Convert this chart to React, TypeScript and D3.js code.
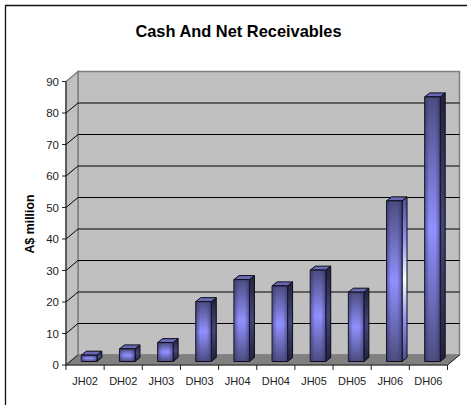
import React from 'react';
import * as d3 from 'd3';

const categories = ['JH02', 'DH02', 'JH03', 'DH03', 'JH04', 'DH04', 'JH05', 'DH05', 'JH06', 'DH06'];
const values = [2, 4, 6, 19, 26, 24, 29, 22, 51, 84];
const yTicks = [0, 10, 20, 30, 40, 50, 60, 70, 80, 90];

const title = 'Cash And Net Receivables';
const yTitle = 'A$ million';

const width = 467;
const height = 405;

// wall is pushed back from the axis plane, bars sit a third of the way in
const wallDx = 12;
const wallDy = -10;
const barDx = 4;
const barDy = -3.5;
const barDepth = 5;

const x = d3.scaleBand<string>().domain(categories).range([66, 447.5]).paddingInner(0).paddingOuter(0);
const y = d3.scaleLinear().domain([0, 90]).range([365, 81.5]);

const poly = (pts: number[][]) => d3.line()(pts as [number, number][]) + 'Z';

export default function App() {
  const x0 = x.range()[0];
  const x1 = x.range()[1];
  const y0 = y(0);
  const yTop = y(90);
  const barW = 15.5;

  return (
    <svg
      width={width}
      height={height}
      style={{ position: 'absolute', left: 0, top: 0, background: '#fff' }}
      fontFamily="'Liberation Sans', Arial, sans-serif"
    >
      <defs>
        <linearGradient id="front" x1="0" y1="0" x2="0" y2="1">
          <stop offset="0" stopColor="#4c4c80" />
          <stop offset="0.5" stopColor="#9090ff" />
          <stop offset="1" stopColor="#4c4c80" />
        </linearGradient>
        <linearGradient id="edge" x1="0" y1="0" x2="1" y2="0">
          <stop offset="0" stopColor="#30305a" stopOpacity="0.55" />
          <stop offset="0.3" stopColor="#30305a" stopOpacity="0" />
          <stop offset="0.7" stopColor="#30305a" stopOpacity="0" />
          <stop offset="1" stopColor="#30305a" stopOpacity="0.55" />
        </linearGradient>
        <linearGradient id="side" x1="0" y1="0" x2="0" y2="1">
          <stop offset="0" stopColor="#22223c" />
          <stop offset="0.5" stopColor="#45457a" />
          <stop offset="1" stopColor="#22223c" />
        </linearGradient>
        <linearGradient id="sideLight" x1="0" y1="0" x2="0" y2="1">
          <stop offset="0" stopColor="#4c4c90" />
          <stop offset="0.25" stopColor="#9090f0" />
          <stop offset="0.5" stopColor="#ffffff" />
          <stop offset="0.75" stopColor="#9090f0" />
          <stop offset="1" stopColor="#4c4c90" />
        </linearGradient>
      </defs>

      {/* chart frame */}
      <path d={`M5.5,${height}V5.5H${width}`} fill="none" stroke="#111" strokeWidth={1.3} />

      <text x={238.5} y={37} textAnchor="middle" fontSize={16.4} fontWeight="bold" fill="#000">
        {title}
      </text>
      <text
        transform="translate(34,224) rotate(-90)"
        textAnchor="middle"
        fontSize={12.4}
        fontWeight="bold"
        fill="#000"
      >
        {yTitle}
      </text>

      {/* walls and floor */}
      <path
        d={poly([[x0 + wallDx, yTop + wallDy], [x1 + wallDx, yTop + wallDy], [x1 + wallDx, y0 + wallDy], [x0 + wallDx, y0 + wallDy]])}
        fill="#c0c0c0"
        stroke="#808080"
        strokeWidth={1.5}
      />
      <path
        d={poly([[x0, yTop], [x0 + wallDx, yTop + wallDy], [x0 + wallDx, y0 + wallDy], [x0, y0]])}
        fill="#c0c0c0"
        stroke="#808080"
        strokeWidth={1.5}
      />
      <path
        d={poly([[x0, y0], [x0 + wallDx, y0 + wallDy], [x1 + wallDx, y0 + wallDy], [x1, y0]])}
        fill="#808080"
        stroke="#808080"
      />

      {/* gridlines */}
      {yTicks.filter(t => t > 0 && t < 90).map(t => (
        <path
          key={t}
          d={`M${x0},${y(t)}L${x0 + wallDx},${y(t) + wallDy}H${x1 + wallDx}`}
          fill="none"
          stroke="#000"
          strokeWidth={1}
        />
      ))}
      <path d={`M${x0},${y0}L${x0 + wallDx},${y0 + wallDy}`} stroke="#222" fill="none" />
      <path d={`M${x1},${y0}L${x1 + wallDx},${y0 + wallDy}`} stroke="#222" fill="none" />

      {/* bars */}
      {categories.map((c, i) => {
        const left = (x(c) as number) + (x.bandwidth() - barW) / 2 + barDx;
        const right = left + barW;
        const base = y0 + barDy;
        const top = y(values[i]) + barDy;
        const side = c === 'JH06' ? 'url(#sideLight)' : 'url(#side)';
        return (
          <g key={c} stroke="#0a0a18" strokeWidth={1} strokeLinejoin="round">
            <path
              d={poly([[right, top], [right + barDepth, top - barDepth + 1], [right + barDepth, base - barDepth + 1], [right, base]])}
              fill={side}
            />
            <path
              d={poly([[left, top], [left + barDepth, top - barDepth + 1], [right + barDepth, top - barDepth + 1], [right, top]])}
              fill="#6a6ab4"
            />
            <rect x={left} y={top} width={barW} height={base - top} fill="url(#front)" />
            <rect x={left} y={top} width={barW} height={base - top} fill="url(#edge)" stroke="none" />
          </g>
        );
      })}

      {/* axes */}
      <path d={`M${x0},${yTop}V${y0}H${x1}`} fill="none" stroke="#222" strokeWidth={1} />
      {yTicks.map(t => (
        <g key={t}>
          <path d={`M${x0 - 4},${y(t)}H${x0}`} stroke="#222" />
          <text x={x0 - 7} y={y(t) + 4} textAnchor="end" fontSize={11.5} fill="#222">
            {t}
          </text>
        </g>
      ))}
      {categories.map(c => (
        <g key={c}>
          <path d={`M${x(c)},${y0}v5`} stroke="#222" />
          <text x={(x(c) as number) + x.bandwidth() / 2} y={385} textAnchor="middle" fontSize={11} fill="#222">
            {c}
          </text>
        </g>
      ))}
      <path d={`M${x1},${y0}v5`} stroke="#222" />
    </svg>
  );
}
